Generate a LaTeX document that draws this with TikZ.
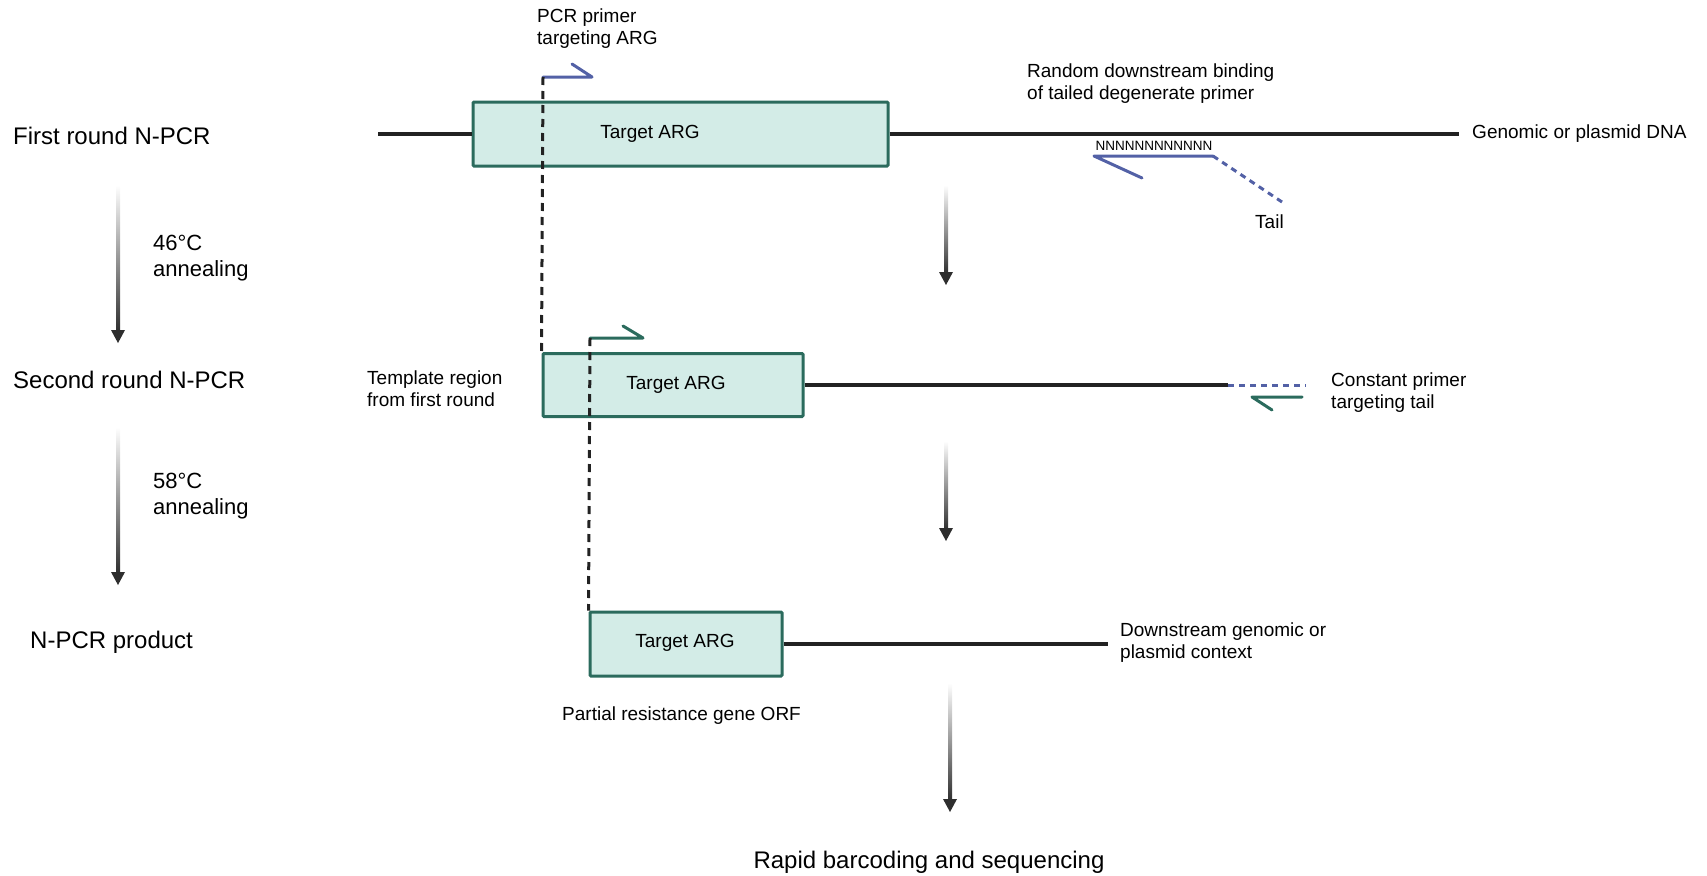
\documentclass[tikz,border=0pt]{standalone}
\usepackage{fontspec}
\setmainfont{Liberation Sans}
\usetikzlibrary{arrows.meta, calc, positioning}

\definecolor{argfill}{HTML}{D3ECE7}
\definecolor{argline}{HTML}{2B6B5D}
\definecolor{primblue}{HTML}{5361A6}
\definecolor{dnagray}{HTML}{222222}
\definecolor{arrgray}{HTML}{2E2E2E}

\newcommand{\txtbig}{\fontsize{24}{28}\selectfont}
\newcommand{\txtmid}{\fontsize{22}{26}\selectfont}
\newcommand{\txtsm}{\fontsize{19}{22}\selectfont}
\newcommand{\txtN}{\fontsize{13.5}{16}\selectfont}

% shaft fading in from the top, solid head at the end
\newcommand{\fadearrow}[2]{%
    \shade[top color=white, middle color=arrgray, bottom color=arrgray]
        ($(#1)+(-2,0)$) rectangle ($(#2)+(2,-11)$);
    \fill[arrgray] ($(#2)+(-7,-13)$) -- (#2) -- ($(#2)+(7,-13)$) -- cycle;
}

\begin{document}
\begin{tikzpicture}[
    x=1pt,   % 1 px of the sketch
    y=-1pt,  % y runs downwards
    >=Stealth,
    dna/.style={draw=dnagray, line width=3.5pt},
    argbox/.style={draw=argline, fill=argfill, line width=3pt, rounded corners=1pt, inner sep=0pt},
    primer/.style={line width=3pt, line cap=round, line join=round},
    tmpl/.style={draw=dnagray, line width=3pt, dash pattern=on 8pt off 6pt},
    tailline/.style={draw=primblue, line width=3pt, dash pattern=on 6pt off 5pt},
    lbl/.style={inner sep=0pt, anchor=west, align=left}
]
    \useasboundingbox (0,0) rectangle (1707,875);

    % --- steps on the left ---
    \node[lbl, font=\txtbig] (first) at (13,136) {First round N-PCR};
    \node[lbl, font=\txtbig] (second) at (13,380) {Second round N-PCR};
    \node[lbl, font=\txtbig] (product) at (30,642) {N-PCR product};
    \node[lbl, font=\txtmid] (anneal1) at (153,258) {46°C\\annealing};
    \node[lbl, font=\txtmid] (anneal2) at (153,496) {58°C\\annealing};

    \coordinate (a1s) at (118,185);
    \coordinate (a1e) at (118,343);
    \coordinate (a2s) at (118,427);
    \coordinate (a2e) at (118,585);
    \fadearrow{a1s}{a1e}
    \fadearrow{a2s}{a2e}

    % --- first round ---
    \node[argbox, minimum width=415pt, minimum height=64pt] (box1) at (680.5,134) {};
    \node[inner sep=0pt, font=\txtsm] (box1txt) at (650,134) {Target ARG};
    \coordinate (l1start) at (378,134);
    \coordinate (l1end) at (1459,134);
    \draw[dna] (l1start) -- (box1.west);
    \draw[dna] (box1.east) -- (l1end);
    \node[lbl, font=\txtsm] (genomic) at (1472,134) {Genomic or plasmid DNA};

    \node[lbl, font=\txtsm] (primerlbl) at (537,29) {PCR primer\\targeting ARG};
    \node[lbl, font=\txtsm] (randomlbl) at (1027,84) {Random downstream binding\\of tailed degenerate primer};

    % degenerate primer with tail
    \coordinate (rev1) at (1094,156);
    \node[inner sep=0pt, font=\txtN] (nnn) at (1154,146) {NNNNNNNNNNNN};
    \draw[primer, primblue] ($(rev1)+(48,22)$) -- (rev1) -- ++(119,0) coordinate (rev1end);
    \draw[tailline] (rev1end) -- ++(69,46);
    \node[lbl, font=\txtsm] (tail) at (1255,222) {Tail};

    % --- second round ---
    \node[argbox, minimum width=260pt, minimum height=63pt] (box2) at (673,385) {};
    \node[inner sep=0pt, font=\txtsm] (box2txt) at (676,385) {Target ARG};
    \coordinate (tailstart) at (1228,385);
    \draw[dna] (box2.east) -- (tailstart);
    \draw[tailline] (tailstart) -- ++(78,0);
    \draw[primer, argline] (1272,410) -- (1252,397) -- (1302,397);
    \node[lbl, font=\txtsm] (templlbl) at (367,389) {Template region\\from first round};
    \node[lbl, font=\txtsm] (constlbl) at (1331,393) {Constant primer\\targeting tail};

    % forward primer 1 and template limit
    \coordinate (fwd1) at (543,77);
    \draw[primer, primblue] (fwd1) -- ++(49,0) -- ++(-20,-13);
    \draw[tmpl] (fwd1) -- (box2.north west);

    % --- product ---
    \node[argbox, minimum width=192pt, minimum height=64pt] (box3) at (686,644) {};
    \node[inner sep=0pt, font=\txtsm] (box3txt) at (685,643) {Target ARG};
    \coordinate (l3end) at (1108,644);
    \draw[dna] (box3.east) -- (l3end);
    \node[lbl, font=\txtsm] (downlbl) at (1120,643) {Downstream genomic or\\plasmid context};
    \node[lbl, font=\txtsm] (partial) at (562,716) {Partial resistance gene ORF};

    % forward primer 2 and template limit
    \coordinate (fwd2) at (590,338);
    \draw[primer, argline] (fwd2) -- ++(53,0) -- ++(-20,-12);
    \draw[tmpl] (fwd2) -- (box3.north west);

    % --- middle arrows ---
    \coordinate (m1s) at (946,185);
    \coordinate (m1e) at (946,285);
    \coordinate (m2s) at (946,441);
    \coordinate (m2e) at (946,541);
    \coordinate (m3s) at (950,683);
    \coordinate (m3e) at (950,812);
    \fadearrow{m1s}{m1e}
    \fadearrow{m2s}{m2e}
    \fadearrow{m3s}{m3e}

    \node[inner sep=0pt, font=\txtbig] (rapid) at (929,862) {Rapid barcoding and sequencing};
\end{tikzpicture}
\end{document}
